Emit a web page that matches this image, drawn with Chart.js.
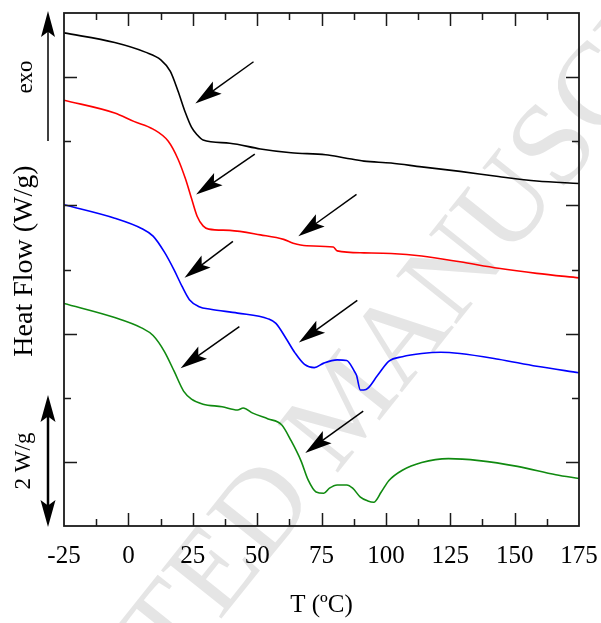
<!DOCTYPE html>
<html>
<head>
<meta charset="utf-8">
<script src="https://cdn.jsdelivr.net/npm/chart.js@4.4.1/dist/chart.umd.min.js"></script>
<style>
  html, body { margin: 0; padding: 0; background: #fff; }
  #wrap { width: 601px; height: 623px; }
</style>
</head>
<body>
<div id="wrap"><canvas id="dscChart" width="601" height="623"></canvas></div>
<script>
// DSC traces, temperature in degC and heat flow in W/g (arbitrary offset, curves shifted)
const blackT  = [-25, -5.3, 6.6, 12.6, 16.3, 19.3, 22.2, 24.5, 26.7, 29, 39.4, 51.3, 63.2, 76.6, 84.1, 91.5, 102, 113.9, 128.8, 143.7, 158.6, 175];
const blackHF = [7.69, 7.54, 7.39, 7.27, 7.09, 6.78, 6.44, 6.22, 6.10, 6.02, 5.97, 5.88, 5.82, 5.79, 5.74, 5.69, 5.66, 5.60, 5.53, 5.45, 5.38, 5.34];

const redT  = [-25, -5.3, 2.1, 9.6, 15.5, 19.3, 22.2, 24.5, 26.7, 29, 31.2, 39.4, 51.3, 60.3, 64, 69.2, 79.6, 81.1, 91.5, 102, 113.9, 128.8, 143.7, 158.6, 175];
const redHF = [6.64, 6.44, 6.31, 6.19, 6.00, 5.72, 5.41, 5.11, 4.83, 4.68, 4.63, 4.61, 4.54, 4.47, 4.41, 4.37, 4.35, 4.29, 4.26, 4.25, 4.21, 4.12, 4.02, 3.94, 3.87];

const blueT  = [-25, -5.3, 5.1, 9.6, 14.0, 17.8, 20.8, 23.7, 27.5, 31.9, 42.4, 54.3, 57.3, 61.0, 64.7, 68.4, 72.2, 75.9, 81.1, 84.8, 87.8, 88.6, 90.1, 92.3, 96.8, 101.2, 106.4, 113.9, 121.3, 128.8, 143.7, 158.6, 175];
const blueHF = [5.01, 4.80, 4.64, 4.52, 4.27, 3.99, 3.74, 3.53, 3.42, 3.38, 3.32, 3.23, 3.16, 2.94, 2.70, 2.52, 2.47, 2.54, 2.59, 2.58, 2.41, 2.35, 2.12, 2.13, 2.35, 2.57, 2.64, 2.69, 2.71, 2.69, 2.60, 2.49, 2.39];

const greenT  = [-25, -5.3, 5.1, 9.6, 14.0, 17.8, 21.5, 24.5, 29.0, 36.4, 42.4, 44.6, 48.3, 54.3, 59.5, 63.2, 67.0, 69.9, 72.9, 75.9, 78.1, 81.1, 84.8, 87.1, 90.1, 93.0, 95.3, 98.2, 101.2, 106.4, 113.9, 124.3, 136.2, 151.1, 166, 175];
const greenHF = [3.47, 3.25, 3.09, 2.97, 2.72, 2.41, 2.10, 1.98, 1.90, 1.86, 1.81, 1.84, 1.76, 1.67, 1.58, 1.33, 1.02, 0.71, 0.53, 0.51, 0.59, 0.64, 0.64, 0.59, 0.45, 0.39, 0.37, 0.53, 0.71, 0.87, 0.99, 1.05, 1.02, 0.93, 0.80, 0.74];

// transition markers: [tail T, tail HF, tip T, tip HF]
const markers = [
    [48.6, 7.24, 26.0, 6.59],
    [49.1, 5.80, 26.3, 5.17],
    [88.6, 5.17, 66.0, 4.52],
    [40.6, 4.44, 21.8, 3.87],
    [88.9, 3.52, 66.2, 2.86],
    [43.1, 3.11, 20.3, 2.46],
    [91.2, 1.79, 68.7, 1.14]
];

const xTicks = [-25, 0, 25, 50, 75, 100, 125, 150, 175];
const serif = "'Liberation Serif', 'Times New Roman', serif";

function pts(xs, ys) {
    return xs.map((x, i) => ({ x: x, y: ys[i] }));
}

function arrowHead(ctx, x1, y1, x2, y2, len, half) {
    const a = Math.atan2(y2 - y1, x2 - x1);
    const c = Math.cos(a), s = Math.sin(a);
    ctx.beginPath();
    ctx.moveTo(x2, y2);
    ctx.lineTo(x2 - len * c + half * s, y2 - len * s - half * c);
    ctx.lineTo(x2 - len * 0.8 * c, y2 - len * 0.8 * s);
    ctx.lineTo(x2 - len * c - half * s, y2 - len * s + half * c);
    ctx.closePath();
    ctx.fill();
}

const decor = {
    id: 'decor',
    beforeDraw(chart) {
        const ctx = chart.ctx;
        ctx.save();
        ctx.fillStyle = '#e5e5e5';
        ctx.font = '118px ' + serif;
        ctx.translate(338, 410);
        ctx.rotate(-51.4 * Math.PI / 180);
        const mw = ctx.measureText('M').width;
        ctx.textBaseline = 'alphabetic';
        ctx.textAlign = 'right';
        ctx.fillText('ACCEPTED ', -mw / 2, 39);
        ctx.textAlign = 'left';
        ctx.fillText('MANUSCRIPT', -mw / 2, 39);
        ctx.restore();
    },
    afterDatasetsDraw(chart) {
        const ctx = chart.ctx;
        const xs = chart.scales.x, ys = chart.scales.y;
        ctx.save();
        ctx.strokeStyle = '#000';
        ctx.fillStyle = '#000';
        ctx.lineWidth = 1.5;
        markers.forEach(m => {
            const x1 = xs.getPixelForValue(m[0]), y1 = ys.getPixelForValue(m[1]);
            const x2 = xs.getPixelForValue(m[2]), y2 = ys.getPixelForValue(m[3]);
            const a = Math.atan2(y2 - y1, x2 - x1);
            ctx.beginPath();
            ctx.moveTo(x1, y1);
            ctx.lineTo(x2 - 20 * Math.cos(a), y2 - 20 * Math.sin(a));
            ctx.stroke();
            arrowHead(ctx, x1, y1, x2, y2, 27, 7.5);
        });
        ctx.restore();
    },
    afterDraw(chart) {
        const ctx = chart.ctx;
        const a = chart.chartArea;
        const xs = chart.scales.x, ys = chart.scales.y;
        ctx.save();
        ctx.strokeStyle = '#1a1a1a';
        ctx.lineWidth = 1.8;
        ctx.strokeRect(a.left, a.top, a.right - a.left, a.bottom - a.top);

        ctx.lineWidth = 1.5;
        ctx.beginPath();
        for (let t = -12.5; t < 175; t += 12.5) {
            const px = Math.round(xs.getPixelForValue(t)) + 0.5;
            const len = (t % 25 === 0) ? 13 : 7;
            ctx.moveTo(px, a.bottom); ctx.lineTo(px, a.bottom - len);
            ctx.moveTo(px, a.top); ctx.lineTo(px, a.top + len);
        }
        for (let v = 1; v < 8; v++) {
            const py = Math.round(ys.getPixelForValue(v)) + 0.5;
            const len = (v % 2 === 1) ? 13 : 7;
            ctx.moveTo(a.left, py); ctx.lineTo(a.left + len, py);
            ctx.moveTo(a.right, py); ctx.lineTo(a.right - len, py);
        }
        ctx.stroke();

        // left side labels
        ctx.fillStyle = '#000';
        ctx.textAlign = 'center';
        ctx.textBaseline = 'middle';
        const rotText = (txt, x, y, size) => {
            ctx.save();
            ctx.translate(x, y);
            ctx.rotate(-Math.PI / 2);
            ctx.font = size + 'px ' + serif;
            ctx.fillText(txt, 0, 0);
            ctx.restore();
        };
        rotText('exo', 26, 77, 23);
        rotText('Heat Flow (W/g)', 25, 261, 28);
        rotText('2 W/g', 24, 461, 23);

        ctx.strokeStyle = '#000';
        ctx.lineWidth = 1.5;
        ctx.beginPath();
        ctx.moveTo(48, 141); ctx.lineTo(48, 30);
        ctx.stroke();
        arrowHead(ctx, 48, 141, 48, 11, 26, 7);

        ctx.lineWidth = 2.5;
        ctx.beginPath();
        ctx.moveTo(48, 410); ctx.lineTo(48, 512);
        ctx.stroke();
        arrowHead(ctx, 48, 460, 48, 395, 27, 7.5);
        arrowHead(ctx, 48, 460, 48, 527, 27, 7.5);
        ctx.restore();
    }
};

const lineSet = (label, xs, ys, color) => ({
    label: label,
    data: pts(xs, ys),
    borderColor: color,
    borderWidth: 1.6,
    pointRadius: 0,
    fill: false,
    cubicInterpolationMode: 'monotone'
});

new Chart(document.getElementById('dscChart').getContext('2d'), {
    type: 'line',
    data: {
        datasets: [
            lineSet('black', blackT, blackHF, '#000000'),
            lineSet('red', redT, redHF, '#ff0000'),
            lineSet('blue', blueT, blueHF, '#0000ff'),
            lineSet('green', greenT, greenHF, '#108a10')
        ]
    },
    options: {
        responsive: false,
        animation: false,
        layout: { padding: { top: 13, right: 22, left: 0, bottom: 0 } },
        plugins: { legend: { display: false }, tooltip: { enabled: false } },
        scales: {
            x: {
                type: 'linear',
                min: -25,
                max: 175,
                afterBuildTicks: s => { s.ticks = xTicks.map(v => ({ value: v })); },
                afterFit: s => { s.height = 97; s.paddingLeft = 0; s.paddingRight = 0; },
                grid: { display: false, drawTicks: false },
                border: { display: false },
                ticks: {
                    padding: 15,
                    color: '#000',
                    maxRotation: 0,
                    font: { family: serif, size: 25 }
                },
                title: {
                    display: true,
                    text: 'T (ºC)',
                    color: '#000',
                    font: { family: serif, size: 25 },
                    padding: { top: 0, bottom: 3 }
                }
            },
            y: {
                type: 'linear',
                min: 0,
                max: 8,
                afterFit: s => { s.width = 64; },
                grid: { display: false, drawTicks: false },
                border: { display: false },
                ticks: { display: false }
            }
        }
    },
    plugins: [decor]
});
</script>
</body>
</html>
